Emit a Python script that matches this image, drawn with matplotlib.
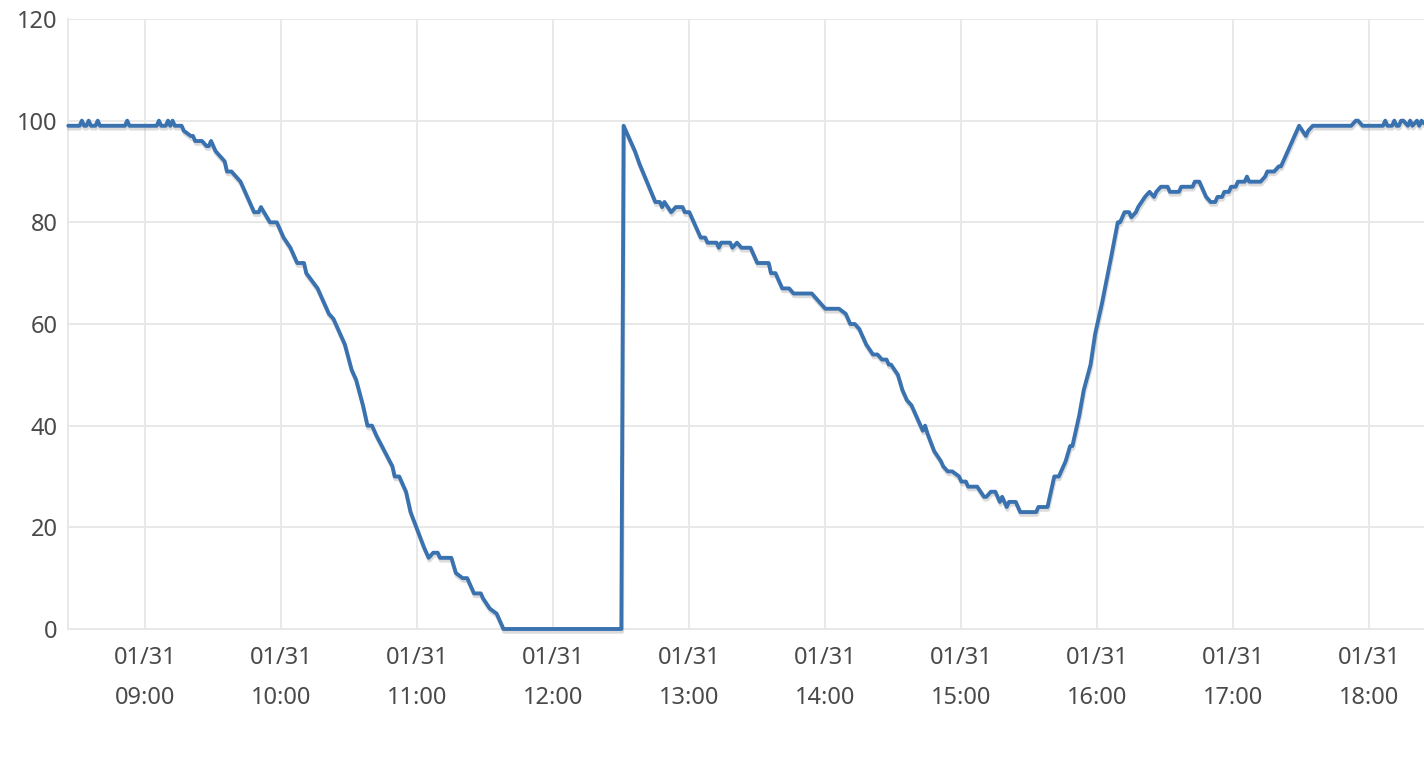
import matplotlib
matplotlib.use("Agg")
import matplotlib.pyplot as plt
import matplotlib.patheffects as pe
import pandas as pd

times = [
    "08:26", "08:31", "08:32", "08:33", "08:34", "08:35", "08:36", "08:38", "08:39", "08:40",
    "08:51", "08:52", "08:53", "09:05", "09:06", "09:07", "09:09", "09:10", "09:11", "09:12",
    "09:13", "09:16", "09:17", "09:20", "09:21", "09:22", "09:25", "09:27", "09:28", "09:29",
    "09:31", "09:33", "09:35", "09:36", "09:38", "09:40", "09:42", "09:48", "09:50", "09:51",
    "09:55", "09:58", "10:01", "10:04", "10:07", "10:10", "10:11", "10:16", "10:18", "10:21",
    "10:23", "10:28", "10:31", "10:33", "10:36", "10:38", "10:40", "10:42", "10:49", "10:50",
    "10:52", "10:55", "10:56", "10:57", "11:00", "11:03", "11:05", "11:07", "11:09", "11:10",
    "11:15", "11:17", "11:20", "11:22", "11:23", "11:25", "11:28", "11:29", "11:32", "11:35",
    "11:38", "12:30", "12:31", "12:36", "12:38", "12:45", "12:47", "12:48", "12:49", "12:52",
    "12:54", "12:57", "12:58", "13:00", "13:05", "13:07", "13:08", "13:12", "13:13", "13:14",
    "13:18", "13:19", "13:21", "13:23", "13:27", "13:30", "13:35", "13:36", "13:38", "13:41",
    "13:44", "13:46", "13:54", "13:56", "13:58", "14:00", "14:06", "14:09", "14:11", "14:13",
    "14:15", "14:18", "14:21", "14:23", "14:25", "14:27", "14:28", "14:29", "14:32", "14:34",
    "14:36", "14:38", "14:40", "14:42", "14:43", "14:44", "14:45", "14:48", "14:51", "14:52",
    "14:54", "14:56", "14:59", "15:00", "15:02", "15:03", "15:07", "15:10", "15:11", "15:13",
    "15:15", "15:17", "15:18", "15:20", "15:21", "15:24", "15:26", "15:33", "15:34", "15:38",
    "15:41", "15:43", "15:46", "15:48", "15:49", "15:52", "15:54", "15:57", "15:58", "15:59",
    "16:02", "16:06", "16:09", "16:10", "16:12", "16:14", "16:15", "16:17", "16:18", "16:21",
    "16:23", "16:25", "16:26", "16:28", "16:31", "16:32", "16:36", "16:37", "16:42", "16:43",
    "16:45", "16:47", "16:48", "16:50", "16:52", "16:53", "16:55", "16:56", "16:58", "16:59",
    "17:01", "17:02", "17:05", "17:06", "17:07", "17:12", "17:14", "17:15", "17:18", "17:20",
    "17:21", "17:29", "17:32", "17:33", "17:35", "17:52", "17:54", "17:55", "17:57", "18:06",
    "18:07", "18:08", "18:10", "18:11", "18:12", "18:13", "18:14", "18:15", "18:17", "18:18",
    "18:19", "18:21", "18:22", "18:23", "18:24",
]
values = [
    99, 99, 100, 99, 99, 100, 99, 99, 100, 99,
    99, 100, 99, 99, 100, 99, 99, 100, 99, 100,
    99, 99, 98, 97, 97, 96, 96, 95, 95, 96,
    94, 93, 92, 90, 90, 89, 88, 82, 82, 83,
    80, 80, 77, 75, 72, 72, 70, 67, 65, 62,
    61, 56, 51, 49, 44, 40, 40, 38, 32, 30,
    30, 27, 25, 23, 19.5, 16, 14, 15, 15, 14,
    14, 11, 10, 10, 9, 7, 7, 6, 4, 3,
    0, 0, 99, 94, 91.5, 84, 84, 83, 84, 82,
    83, 83, 82, 82, 77, 77, 76, 76, 75, 76,
    76, 75, 76, 75, 75, 72, 72, 70, 70, 67,
    67, 66, 66, 65, 64, 63, 63, 62, 60, 60,
    59, 56, 54, 54, 53, 53, 52, 52, 50, 47,
    45, 44, 42, 40, 39, 40, 38.5, 35, 33, 32,
    31, 31, 30, 29, 29, 28, 28, 26, 26, 27,
    27, 25, 26, 24, 25, 25, 23, 23, 24, 24,
    30, 30, 33, 36, 36, 42, 47, 52, 55, 58,
    64, 73, 80, 80, 82, 82, 81, 82, 83, 85,
    86, 85, 86, 87, 87, 86, 86, 87, 87, 88,
    88, 86, 85, 84, 84, 85, 85, 86, 86, 87,
    87, 88, 88, 89, 88, 88, 89, 90, 90, 91,
    91, 99, 97, 98, 99, 99, 100, 100, 99, 99,
    100, 99, 99, 100, 99, 99, 100, 100, 99, 100,
    99, 100, 99, 100, 99.5,
]
tick_times = ["09:00", "10:00", "11:00", "12:00", "13:00", "14:00", "15:00", "16:00", "17:00", "18:00"]
tick_date = "01/31"
y_ticks = [0, 20, 40, 60, 80, 100, 120]

day = "2024-01-31 "
t = pd.to_datetime([day + s for s in times])
ticks = pd.to_datetime([day + s for s in tick_times])

plt.rcParams['font.family'] = ['Noto Sans', 'DejaVu Sans']
text_color = "#4a4a4a"
grid_color = "#e8e8e8"

fig = plt.figure(figsize=(14.24, 7.58), dpi=100)
ax = fig.add_axes([0.0481, 0.1702, 0.9519, 0.8047])

ax.plot(t, values, color="#3a72b0", lw=2.8, clip_on=False,
        solid_joinstyle="round", solid_capstyle="round",
        path_effects=[pe.SimpleLineShadow(offset=(0.5, -2.0), shadow_color="#888888", alpha=0.3),
                      pe.Normal()], zorder=3)

xmin = pd.Timestamp(day + "09:00") - pd.Timedelta(minutes=33.9)
xmax = pd.Timestamp(day + "09:00") + pd.Timedelta(minutes=564.1)
ax.set_xlim(xmin, xmax)
ax.set_ylim(0, 120)

ax.set_xticks(ticks)
ax.set_xticklabels([f"{tick_date}\n{s}" for s in tick_times], linespacing=1.9)
ax.set_yticks(y_ticks)

ax.grid(True, color=grid_color, lw=1.4, zorder=0)
for s in ["top", "right"]:
    ax.spines[s].set_visible(False)
for s in ["left", "bottom"]:
    ax.spines[s].set_color(grid_color)
    ax.spines[s].set_linewidth(1.4)
ax.tick_params(axis="both", length=0, colors=text_color, labelsize=17)
ax.tick_params(axis="x", pad=12)
ax.tick_params(axis="y", pad=8)
ax.set_axisbelow(True)

fig.savefig("out.png", dpi=100)
